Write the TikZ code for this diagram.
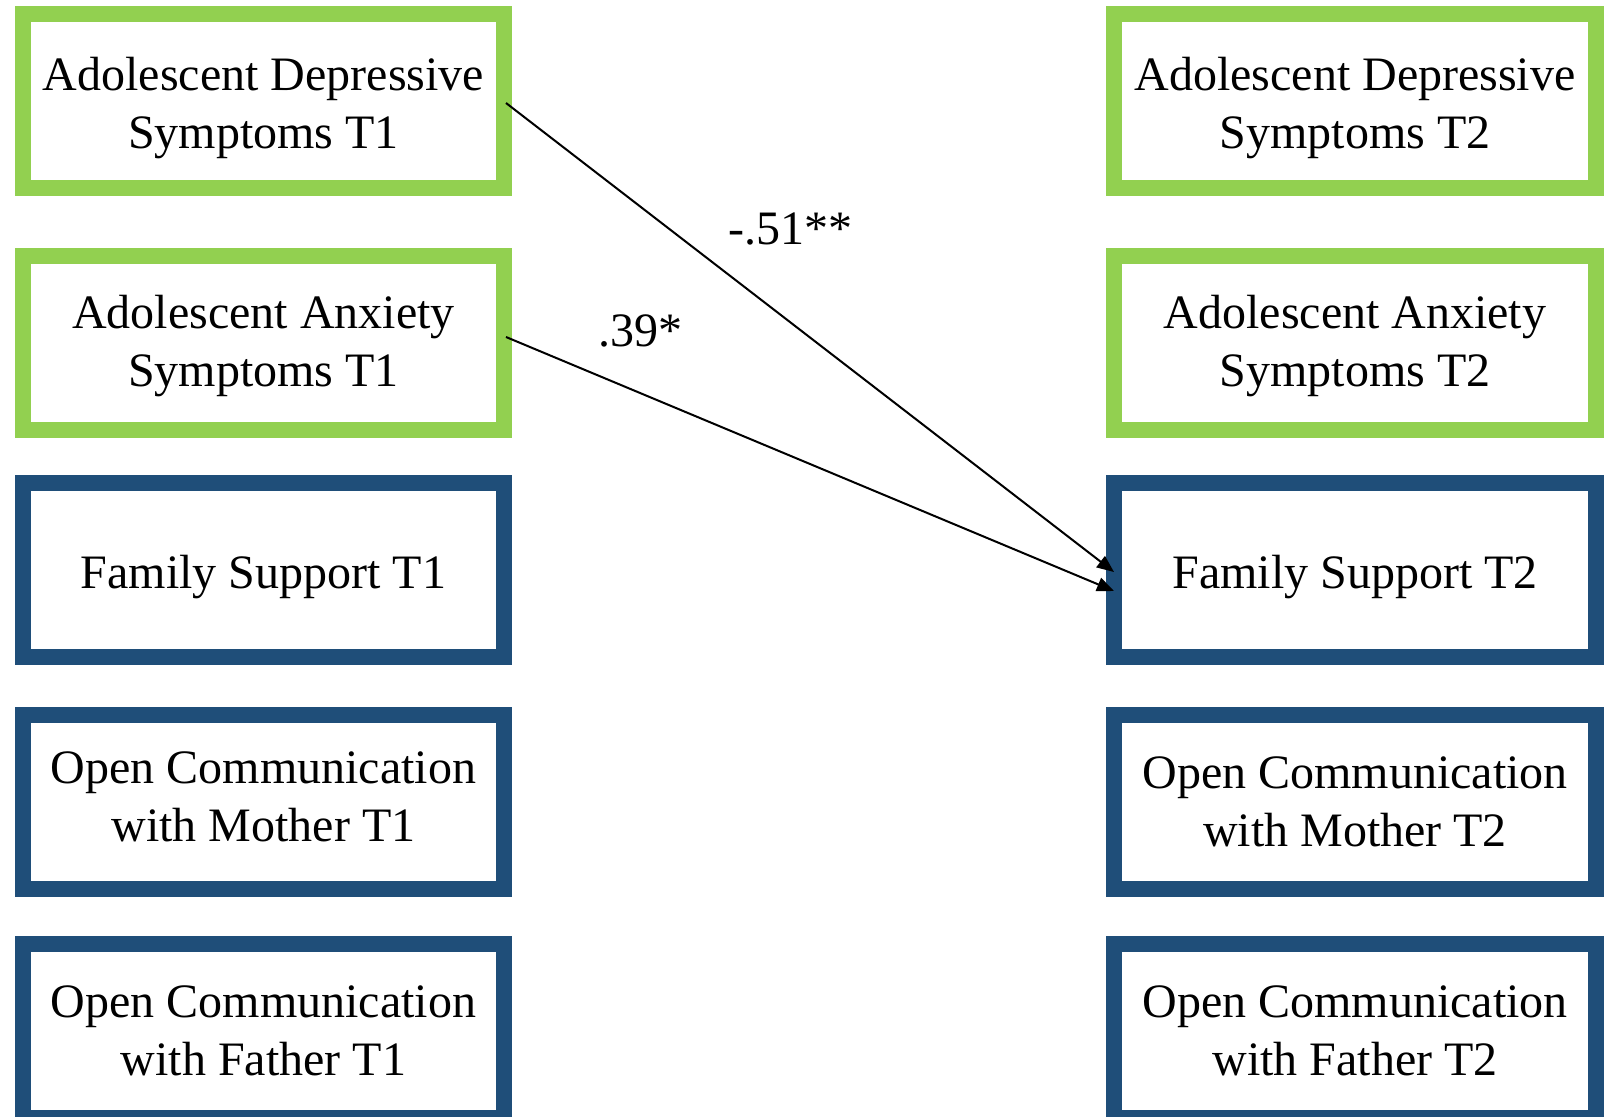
\documentclass[tikz,border=0pt]{standalone}
\usepackage{fontspec}
\setmainfont{Liberation Serif}
\usetikzlibrary{arrows.meta}
\definecolor{boxgreen}{HTML}{92D050}
\definecolor{boxblue}{HTML}{1F4E79}
\begin{document}
\begin{tikzpicture}[x=0.5pt,y=-0.5pt,
  varbox/.style={draw, line width=8pt, fill=white, rectangle, outer sep=0pt, inner sep=0pt,
    minimum height=87pt},
  leftbox/.style={varbox, minimum width=240.5pt},
  rightbox/.style={varbox, minimum width=241pt},
  greenbox/.style={draw=boxgreen},
  bluebox/.style={draw=boxblue},
  boxtext/.style={align=center, inner sep=0pt, font=\fontsize{24pt}{29pt}\selectfont},
  path/.style={line width=1pt, -{Triangle[length=8.5pt,width=7pt]}},
  coef/.style={font=\fontsize{24pt}{29pt}\selectfont, inner sep=0pt}]
\useasboundingbox (0,0) rectangle (1616,1117);
\fill[white] (0,0) rectangle (1616,1117);
% left column
\node[leftbox,greenbox] (dep1) at (263.5,101.5) {};
\node[leftbox,greenbox] (anx1) at (263.5,343) {};
\node[leftbox,bluebox] (fam1) at (263.5,570) {};
\node[leftbox,bluebox] (mom1) at (263.5,801.5) {};
\node[leftbox,bluebox] (dad1) at (263.5,1030.5) {};
\node[boxtext] (dep1t) at ([yshift=-3.5pt]dep1.center) {Adolescent Depressive\\Symptoms T1};
\node[boxtext] (anx1t) at ([yshift=-1.5pt]anx1.center) {Adolescent Anxiety\\Symptoms T1};
\node[boxtext] (fam1t) at ([yshift=-3.5pt]fam1.center) {Family Support T1};
\node[boxtext] (mom1t) at ([yshift=2.5pt]mom1.center) {Open Communication\\with Mother T1};
\node[boxtext] (dad1t) at (dad1.center) {Open Communication\\with Father T1};
% right column
\node[rightbox,greenbox] (dep2) at (1355,101.5) {};
\node[rightbox,greenbox] (anx2) at (1355,343) {};
\node[rightbox,bluebox] (fam2) at (1355,570) {};
\node[rightbox,bluebox] (mom2) at (1355,801.5) {};
\node[rightbox,bluebox] (dad2) at (1355,1030.5) {};
\node[boxtext] (dep2t) at ([yshift=-3.5pt]dep2.center) {Adolescent Depressive\\Symptoms T2};
\node[boxtext] (anx2t) at ([yshift=-1.5pt]anx2.center) {Adolescent Anxiety\\Symptoms T2};
\node[boxtext] (fam2t) at ([yshift=-3.5pt]fam2.center) {Family Support T2};
\node[boxtext] (mom2t) at (mom2.center) {Open Communication\\with Mother T2};
\node[boxtext] (dad2t) at (dad2.center) {Open Communication\\with Father T2};
% paths
\draw[path] ([xshift=1pt,yshift=-0.75pt]dep1.east) -- ([yshift=-1pt]fam2.west);
\draw[path] ([xshift=1pt,yshift=3pt]anx1.east) -- ([yshift=-10.5pt]fam2.west);
% coefficients
\node[coef] (c1) at (790,229) {-.51**};
\node[coef] (c2) at (640,331) {.39*};
\end{tikzpicture}
\end{document}
